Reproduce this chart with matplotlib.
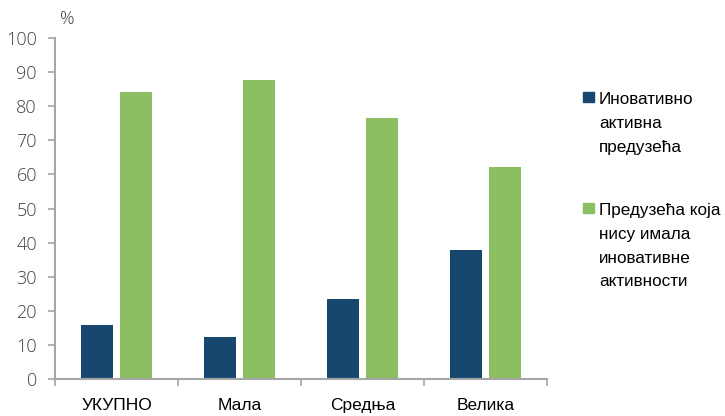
import matplotlib.pyplot as plt
import numpy as np
from matplotlib.patches import Rectangle

categories = ["УКУПНО", "Мала", "Средња", "Велика"]
innovative = [15.7, 12.4, 23.6, 37.7]
not_innovative = [84.3, 87.6, 76.4, 62.3]
labels = ["Иновативно\nактивна\nпредузећа", "Предузећа која\nнису имала\nиновативне\nактивности"]
NAVY = "#17476F"; GREEN = "#8BBF62"; GREY = "#A6A6A6"; TXT = "#404040"

plt.rcParams["font.family"] = ["Liberation Sans", "DejaVu Sans"]
fig = plt.figure(figsize=(7.25, 4.16), dpi=100)
W, H = 725, 416
ax = fig.add_axes([55 / W, 1 - 379 / H, (547 - 55) / W, (379 - 38) / H])

x = np.arange(len(categories))
ax.bar(x - 0.16, innovative, width=0.265, color=NAVY, zorder=2)
ax.bar(x + 0.16, not_innovative, width=0.265, color=GREEN, zorder=2)

ax.set_xlim(-0.5, len(categories) - 0.5)
ax.set_ylim(0, 100)
ax.set_yticks(range(0, 101, 10))
ax.set_xticks(x)
ax.set_xticklabels(categories, fontsize=12.5, color="black")
ax.set_xticks(np.arange(-0.5, len(categories), 1), minor=True)
ax.tick_params(axis="x", which="major", length=0, pad=14)
ax.tick_params(axis="x", which="minor", length=5, color=GREY, width=1.2)
ax.tick_params(axis="y", length=5, color=GREY, width=1.2, labelsize=13, labelcolor=TXT, pad=8)
for lab in ax.get_yticklabels():
    lab.set_fontfamily(["Open Sans", "DejaVu Sans"])
    lab.set_fontweight("light")
for s in ("top", "right"):
    ax.spines[s].set_visible(False)
for s in ("left", "bottom"):
    ax.spines[s].set_color(GREY)
    ax.spines[s].set_linewidth(1.5)

fig.text(67 / W, 1 - 19 / H, "%", fontsize=13, color=TXT, va="center", ha="center",
         family=["Open Sans", "DejaVu Sans"], fontweight="light")

# legend drawn by hand so the square sits on the first text line
for (col, lab, ytop) in [(NAVY, labels[0], 91.7), (GREEN, labels[1], 202.7)]:
    fig.patches.append(Rectangle((583 / W, 1 - (ytop + 10.6) / H), 11 / W, 10.6 / H,
                                 transform=fig.transFigure, color=col))
    fig.text(599 / W, 1 - (ytop + 0.5) / H, lab, fontsize=12.3, color="black",
             va="top", ha="left", linespacing=1.73)

fig.savefig("out.png", dpi=100)
